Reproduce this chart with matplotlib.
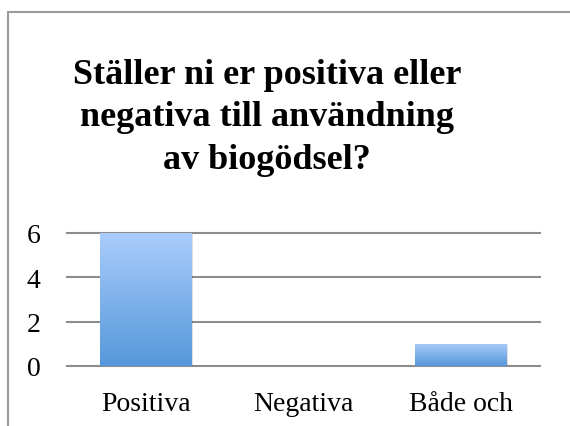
import numpy as np
import matplotlib.pyplot as plt
from matplotlib.patches import Rectangle
from matplotlib.colors import LinearSegmentedColormap

# data
categories = ["Positiva", "Negativa", "Både och"]
values = [6, 0, 1]
yticks = [0, 2, 4, 6]
title = "Ställer ni er positiva eller\nnegativa till användning\nav biogödsel?"

W, H = 570, 427
fig = plt.figure(figsize=(W / 100, H / 100), dpi=100)

# chart border (cut off on right/bottom like the screenshot)
fig.patches.append(Rectangle((8 / W, -0.1), 1.2, 1 - 13 / H + 0.1,
                             transform=fig.transFigure, fill=False,
                             edgecolor="#9a9a9a", linewidth=1.5))

fig.text(267 / W, 1 - 118 / H, title, ha="center", va="center",
         fontsize=26, fontweight="bold", family="Liberation Serif",
         linespacing=1.38)

ax = fig.add_axes([67 / W, 1 - 367 / H, (540 - 67) / W, (367 - 234) / H])
x = np.arange(len(categories))
bars = ax.bar(x, values, width=0.58, color="none", zorder=3)

cmap = LinearSegmentedColormap.from_list("bar", ["#5597db", "#aacdfb"])
grad = np.linspace(0, 1, 256).reshape(-1, 1)
for b in bars:
    if b.get_height() <= 0:
        continue
    x0, w, h = b.get_x(), b.get_width(), b.get_height()
    # soft shadow
    ax.add_patch(Rectangle((x0 + 0.01, -0.06), w, h, facecolor="#000000",
                           alpha=0.12, edgecolor="none", zorder=2))
    im = ax.imshow(grad, cmap=cmap, origin="lower", aspect="auto",
                   extent=(x0, x0 + w, 0, h), zorder=3)
    im.set_clip_path(b)

ax.set_xlim(-0.5, len(categories) - 0.5)
ax.set_ylim(0, 6)
ax.set_yticks(yticks)
ax.set_xticks(x)
ax.set_xticklabels(categories)
ax.yaxis.grid(True, color="#8c8c8c", linewidth=1.5, zorder=0)
for gl in ax.get_ygridlines():
    gl.set_clip_on(False)
ax.set_axisbelow(True)
for s in ax.spines.values():
    s.set_visible(False)
ax.tick_params(axis="both", length=0, labelsize=20)
ax.tick_params(axis="y", pad=19)
ax.tick_params(axis="x", pad=18)
for lab in ax.get_xticklabels() + ax.get_yticklabels():
    lab.set_family("Liberation Serif")

fig.savefig("out.png", dpi=100)
